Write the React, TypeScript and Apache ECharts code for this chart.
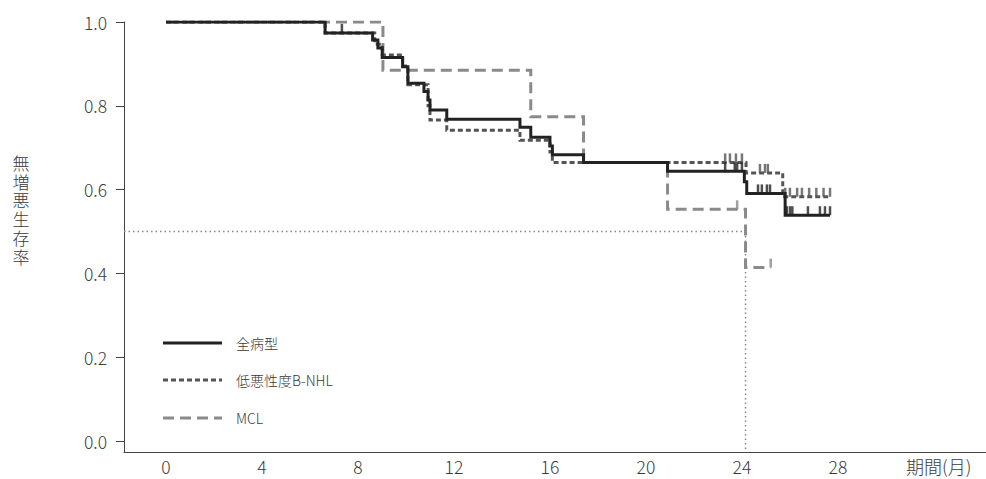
import React, { useEffect, useRef } from "react";
import * as echarts from "echarts";

// Kaplan-Meier step data (months, survival after the event)
const allTimes = [0, 6.63, 8.61, 8.83, 9.01, 9.86, 10.08, 10.75, 10.92, 11.0, 11.7, 14.75, 15.2, 16.0, 16.1, 17.4, 20.9, 24.1, 24.2, 25.8, 27.67];
const allSurv = [1.0, 0.974, 0.957, 0.938, 0.915, 0.893, 0.854, 0.834, 0.814, 0.79, 0.768, 0.749, 0.725, 0.704, 0.683, 0.665, 0.644, 0.619, 0.591, 0.539, 0.539];

const lbTimes = [0, 6.63, 8.7, 9.01, 9.86, 10.08, 10.92, 11.0, 11.7, 14.75, 16.0, 16.1, 24.17, 25.7, 27.67];
const lbSurv = [1.0, 0.974, 0.947, 0.921, 0.895, 0.85, 0.8, 0.766, 0.742, 0.718, 0.69, 0.665, 0.64, 0.583, 0.583];

const mclTimes = [0, 9.04, 15.2, 17.4, 20.9, 24.15, 25.2];
const mclSurv = [1.0, 0.885, 0.774, 0.665, 0.553, 0.414, 0.414];

// Censor marks
const allCensorT = [7.33, 23.3, 23.7, 23.8, 24.0, 24.67, 24.83, 25.04, 25.17, 25.87, 26.0, 26.1, 26.75, 27.25, 27.46, 27.67];
const allCensorS = [0.974, 0.644, 0.644, 0.644, 0.644, 0.591, 0.591, 0.591, 0.591, 0.539, 0.539, 0.539, 0.539, 0.539, 0.539, 0.539];
const lbCensorT = [23.3, 23.5, 23.75, 24.0, 24.75, 24.96, 25.08, 25.8, 26.0, 26.3, 26.5, 26.8, 27.1, 27.4, 27.67];
const lbCensorS = [0.665, 0.665, 0.665, 0.665, 0.64, 0.64, 0.64, 0.583, 0.583, 0.583, 0.583, 0.583, 0.583, 0.583, 0.583];
const mclCensorT = [23.8, 25.2];
const mclCensorS = [0.553, 0.414];

// Median reference
const medianSurv = 0.5;
const medianHorizEnd = 24.04;
const medianMonth = 24.15;

// Axes
const xTicks = [0, 4, 8, 12, 16, 20, 24, 28];
const yTicks = [0, 0.2, 0.4, 0.6, 0.8, 1.0];
const xMin = -1.75;
const xMax = 34.17;
const yMin = -0.026;
const yMax = 1.0;

const seriesNames = ["全病型", "低悪性度B-NHL", "MCL"];
const yAxisTitle = "無増悪生存率";
const xAxisTitle = "期間(月)";

const FONT = "'Noto Sans CJK JP', 'Noto Sans', sans-serif";
const TEXT = "#3a3a3a";
const WEIGHT = 300;

const zip = (a: number[], b: number[]) => a.map((v, i) => [v, b[i]]);

export default function App() {
  const ref = useRef<HTMLDivElement>(null);
  useEffect(() => {
    if (!ref.current) return;
    const chart = echarts.init(ref.current, undefined, { renderer: "svg" });
    const colors = ["#222222", "#555555", "#8a8a8a"];
    const widths = [3, 3, 3];
    const types: any[] = ["solid", [5, 3], [11, 6]];
    const censorSeries = (t: number[], s: number[], color: string, z: number) => ({
      type: "scatter",
      data: zip(t, s),
      symbol: "rect",
      symbolSize: [2.5, 9],
      symbolOffset: [0, -4.5],
      itemStyle: { color },
      z,
      silent: true,
    });
    const stepSeries = (name: string, t: number[], s: number[], i: number, z: number) => ({
      name,
      type: "line",
      step: "end",
      data: zip(t, s),
      showSymbol: false,
      lineStyle: { color: colors[i], width: widths[i], type: types[i], cap: "butt", join: "miter" },
      z,
      silent: true,
    });
    const legendY = [343, 380, 418];
    const legendGraphics: any[] = [];
    seriesNames.forEach((n, i) => {
      legendGraphics.push({
        type: "line",
        shape: { x1: 163, y1: legendY[i], x2: 222, y2: legendY[i] },
        style: { stroke: colors[i], lineWidth: 3, lineDash: i === 0 ? null : types[i] },
      });
      legendGraphics.push({
        type: "text",
        x: 236,
        y: legendY[i],
        style: {
          text: n,
          fontSize: 14,
          fontWeight: WEIGHT,
          fontFamily: FONT,
          fill: TEXT,
          verticalAlign: "middle",
          align: "left",
        },
      });
    });
    const titleChars = yAxisTitle.split("").map((c, i) => ({
      type: "text",
      x: 21,
      y: 162.5 + i * 18.7,
      style: {
        text: c,
        fontSize: 17,
        lineHeight: 17,
        fontWeight: WEIGHT,
        fontFamily: FONT,
        fill: TEXT,
        align: "center",
        verticalAlign: "middle",
      },
    }));
    chart.setOption({
      animation: false,
      grid: { left: 124, right: 0, top: 22, bottom: 27, containLabel: false },
      xAxis: {
        type: "value",
        min: xMin,
        max: xMax,
        axisLine: { show: true, onZero: false, lineStyle: { color: "#444", width: 1 } },
        axisTick: { show: false },
        splitLine: { show: false },
        axisLabel: {
          customValues: xTicks,
          fontSize: 17.5,
          fontWeight: WEIGHT,
          color: TEXT,
          fontFamily: FONT,
          margin: 6,
        },
      },
      yAxis: {
        type: "value",
        min: yMin,
        max: yMax,
        axisLine: { show: true, onZero: false, lineStyle: { color: "#444", width: 1 } },
        axisTick: { show: true, customValues: yTicks, length: 8, lineStyle: { color: "#444" } },
        splitLine: { show: false },
        axisLabel: {
          customValues: yTicks,
          fontSize: 17.5,
          fontWeight: WEIGHT,
          color: TEXT,
          fontFamily: FONT,
          margin: 17,
          formatter: (v: number) => v.toFixed(1),
        },
      },
      graphic: [
        ...titleChars,
        {
          type: "text",
          x: 906,
          y: 466,
          style: {
            text: xAxisTitle,
            fontSize: 18,
            lineHeight: 18,
            fontWeight: WEIGHT,
            fontFamily: FONT,
            fill: TEXT,
            verticalAlign: "middle",
            align: "left",
          },
        },
        ...legendGraphics,
      ],
      series: [
        {
          type: "line",
          data: [[xMin, medianSurv], [medianHorizEnd, medianSurv]],
          showSymbol: false,
          lineStyle: { color: "#888", width: 1.5, type: [1.5, 3] },
          z: 1,
          silent: true,
        },
        {
          type: "line",
          data: [[medianMonth, medianSurv], [medianMonth, yMin]],
          showSymbol: false,
          lineStyle: { color: "#888", width: 1.5, type: [1.5, 3] },
          z: 1,
          silent: true,
        },
        stepSeries(seriesNames[2], mclTimes, mclSurv, 2, 2),
        censorSeries(mclCensorT, mclCensorS, colors[2], 2),
        stepSeries(seriesNames[1], lbTimes, lbSurv, 1, 3),
        censorSeries(lbCensorT, lbCensorS, colors[1], 3),
        stepSeries(seriesNames[0], allTimes, allSurv, 0, 4),
        censorSeries(allCensorT, allCensorS, colors[0], 4),
      ],
    });
    return () => chart.dispose();
  }, []);
  return (
    <div
      ref={ref}
      style={{ position: "fixed", left: 0, top: 0, width: 986, height: 479, background: "#fff" }}
    />
  );
}
